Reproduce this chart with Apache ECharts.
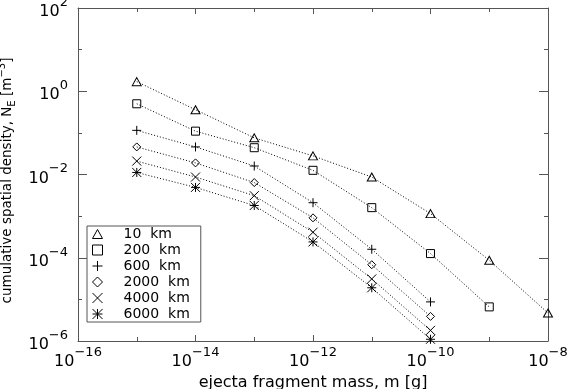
<!DOCTYPE html>
<html>
<head>
<meta charset="utf-8">
<script src="https://cdn.jsdelivr.net/npm/echarts@6/dist/echarts.min.js"></script>
<style>
html,body{margin:0;padding:0;background:#fff;}
#c{width:568px;height:389px;}
</style>
</head>
<body>
<div id="c"></div>
<script>
// ---- data ----
const masses = [1e-15, 1e-14, 1e-13, 1e-12, 1e-11, 1e-10, 1e-9, 1e-8];
const seriesNames = ['10 km', '200 km', '600 km', '2000 km', '4000 km', '6000 km'];
const d10   = [1.7, 0.36, 0.076, 0.028, 0.0087, 1.15e-3, 8.7e-5, 4.7e-6];
const d200  = [0.50, 0.11, 0.044, 0.0126, 1.6e-3, 1.26e-4, 6.6e-6];
const d600  = [0.115, 0.046, 0.016, 2.1e-3, 1.6e-4, 8.7e-6];
const d2000 = [0.046, 0.019, 6.4e-3, 9.1e-4, 6.8e-5, 3.9e-6];
const d4000 = [0.021, 8.7e-3, 3.1e-3, 4.1e-4, 3.1e-5, 1.8e-6];
const d6000 = [0.0112, 4.9e-3, 1.8e-3, 2.4e-4, 1.9e-5, 1.1e-6];
const xRange = [1e-16, 1e-8];
const yRange = [1e-6, 1e2];
const xTitle = 'ejecta fragment mass, m [g]';

// ---- styling ----
const FONT = 'DejaVu Sans';
const AX = '#555';
const symbols = [
  'path://M5 0 L10 9 L0 9 Z',
  'path://M0 0 L10 0 L10 10 L0 10 Z',
  'path://M5 0 L5 10 M0 5 L10 5',
  'path://M5 0 L10 5 L5 10 L0 5 Z',
  'path://M0 0 L10 10 M10 0 L0 10',
  'path://M0 0 L10 10 M10 0 L0 10 M5 0 L5 10 M0 5 L10 5'
];
const sizes = [[9,8],[8,8],[9,9],[8,8],[9,9],[9,9]];
const allData = [d10, d200, d600, d2000, d4000, d6000];

function sciLabel(v) {
  const e = Math.round(Math.log10(v));
  return '{b|10}{s|' + (e < 0 ? '\u2212' : '') + Math.abs(e) + '}';
}
const labelRich = {
  b: {fontFamily: FONT, fontSize: 16, lineHeight: 24, verticalAlign: 'bottom', color: '#000'},
  s: {fontFamily: FONT, fontSize: 13, lineHeight: 10, verticalAlign: 'top', color: '#000'}
};

function mkAxis(kind, pos, major, range) {
  const isX = kind === 'x';
  return {
    type: 'log', logBase: 10, position: pos,
    min: range[0], max: range[1],
    interval: major ? 2 : 1,
    axisLine: {show: major, onZero: false, lineStyle: {color: AX, width: 1}},
    axisTick: {show: true, inside: true, length: major ? (isX ? 6 : 9) : 4, lineStyle: {color: AX, width: 1}},
    axisLabel: {show: false},
    splitLine: {show: false},
    minorTick: {show: false},
    minorSplitLine: {show: false}
  };
}

const xAxes = [
  Object.assign(mkAxis('x', 'bottom', true, xRange), {
    axisLabel: {show: true, margin: 5, formatter: sciLabel, rich: labelRich, fontFamily: FONT, color: '#000'},
    name: xTitle, nameLocation: 'middle', nameGap: 25,
    nameTextStyle: {fontFamily: FONT, fontSize: 16, color: '#000'}
  }),
  mkAxis('x', 'bottom', false, xRange),
  mkAxis('x', 'top', true, xRange),
  mkAxis('x', 'top', false, xRange)
];
const yAxes = [
  Object.assign(mkAxis('y', 'left', true, yRange), {
    axisLabel: {show: true, margin: 10, formatter: sciLabel, rich: labelRich, fontFamily: FONT, color: '#000'},
    name: '{n|cumulative spatial density, N}{sub|E}{n| [m}{sup|\u22123}{n|]}',
    nameLocation: 'middle', nameGap: 55,
    nameTextStyle: {
      fontFamily: FONT, fontSize: 13.5, color: '#000',
      padding: [0, 12, 0, 0],
      rich: {
        n: {fontFamily: FONT, fontSize: 13.5, lineHeight: 20, color: '#000'},
        sub: {fontFamily: FONT, fontSize: 10, lineHeight: 12, verticalAlign: 'bottom', color: '#000'},
        sup: {fontFamily: FONT, fontSize: 10, lineHeight: 12, verticalAlign: 'top', color: '#000'}
      }
    }
  }),
  mkAxis('y', 'left', false, yRange),
  mkAxis('y', 'right', true, yRange),
  mkAxis('y', 'right', false, yRange)
];

const series = seriesNames.map((name, k) => ({
  name: name,
  type: 'line',
  xAxisIndex: 0, yAxisIndex: 0,
  data: allData[k].map((v, i) => [masses[i], v]),
  symbol: symbols[k],
  symbolSize: sizes[k],
  symbolKeepAspect: false,
  itemStyle: {color: 'none', borderColor: '#000', borderWidth: 1},
  lineStyle: {color: '#000', width: 1, type: [1, 2]},
  emphasis: {disabled: true},
  silent: true
}));

const chart = echarts.init(document.getElementById('c'), null, {renderer: 'canvas'});
chart.setOption({
  animation: false,
  backgroundColor: '#fff',
  grid: {left: 78, right: 20, top: 8, bottom: 48, containLabel: false, outerBoundsMode: 'none'},
  xAxis: xAxes,
  yAxis: yAxes,
  legend: {
    orient: 'vertical',
    left: 87, top: 226,
    padding: [0, 11, 0, 3],
    itemWidth: 10, itemHeight: 10, itemGap: 0,
    borderColor: AX, borderWidth: 1, borderRadius: 0,
    selectedMode: false,
    data: seriesNames.map((n, k) => ({name: n, icon: symbols[k]})),
    itemStyle: {color: 'none', borderColor: '#000', borderWidth: 1},
    lineStyle: {width: 0},
    formatter: n => '{t|' + n.replace(' ', '  ') + '}',
    textStyle: {
      fontFamily: FONT, fontSize: 14, color: '#000', lineHeight: 16,
      rich: {t: {fontFamily: FONT, fontSize: 14, lineHeight: 16, padding: [0, 0, 0, 16], color: '#000'}}
    }
  },
  series: series
});
</script>
</body>
</html>
